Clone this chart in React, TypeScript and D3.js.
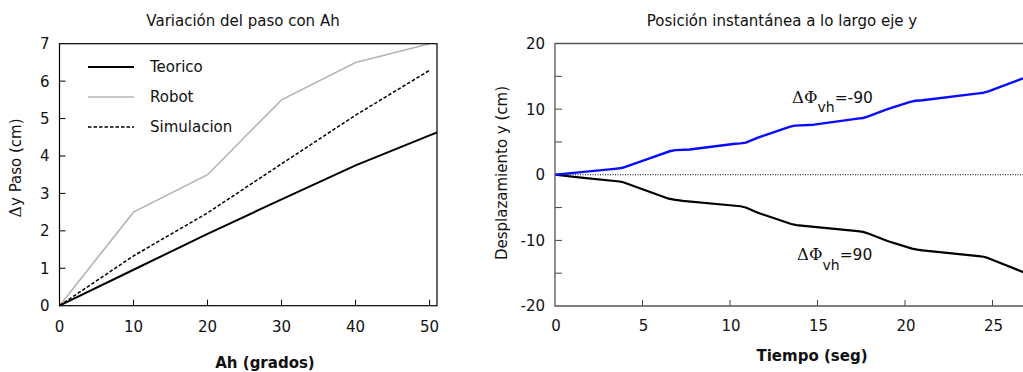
import React from "react";
import * as d3 from "d3";

// ---------- Left panel data ----------
const ahGrados = [0, 10, 20, 30, 40, 50];
const teoricoX = [0, 10, 20, 30, 40, 50, 51];
const teoricoY = [0, 0.96, 1.92, 2.84, 3.75, 4.55, 4.63];
const robotY = [0, 2.5, 3.5, 5.5, 6.5, 7.0];
const simulacionY = [0, 1.33, 2.48, 3.79, 5.09, 6.29];
const leftXTicks = [0, 10, 20, 30, 40, 50];
const leftYTicks = [0, 1, 2, 3, 4, 5, 6, 7];
const legendLabels = ["Teorico", "Robot", "Simulacion"];

// ---------- Right panel data ----------
const tiempoNeg = [0, 1.5, 3.4, 3.7, 3.9, 5.2, 6.6, 6.9, 7.7, 10.3, 10.6, 10.9, 11.6, 13.4, 13.7, 14.8, 17.3, 17.6, 17.9, 19.0, 20.3, 20.6, 21.0, 24.2, 24.5, 24.8, 26.7, 27.5];
const dispNeg90 = [0, 0.4, 0.9, 0.98, 1.1, 2.3, 3.62, 3.75, 3.84, 4.72, 4.78, 4.9, 5.66, 7.3, 7.48, 7.63, 8.55, 8.65, 8.9, 10.0, 11.1, 11.28, 11.35, 12.4, 12.5, 12.75, 14.63, 15.4];
const tiempoPos = [0, 1.5, 3.4, 3.7, 3.9, 5.2, 6.5, 6.8, 7.3, 10.3, 10.6, 10.9, 11.6, 13.5, 13.8, 14.8, 17.3, 17.6, 17.9, 19.0, 20.4, 20.7, 21.0, 24.2, 24.5, 24.8, 26.7, 27.5];
const dispPos90 = [0, -0.45, -0.95, -1.03, -1.15, -2.4, -3.65, -3.8, -3.98, -4.72, -4.8, -4.99, -5.8, -7.5, -7.68, -7.93, -8.6, -8.7, -8.95, -10.1, -11.25, -11.42, -11.53, -12.4, -12.5, -12.75, -14.78, -15.6];
const rightXTicks = [0, 5, 10, 15, 20, 25];
const rightYTicks = [-20, -15, -10, -5, 0, 5, 10, 15, 20];
const rightYLabels = [-20, -10, 0, 10, 20];

const FONT = "'DejaVu Sans', Verdana, sans-serif";

export default function App() {
  // Left scales
  const xL = d3.scaleLinear().domain([0, 51]).range([59.5, 437]);
  const yL = d3.scaleLinear().domain([0, 7]).range([305.7, 43.7]);
  const lineL = d3
    .line<[number, number]>()
    .x((d) => xL(d[0]))
    .y((d) => yL(d[1]));

  const teorico = lineL(teoricoX.map((x, i) => [x, teoricoY[i]]) as [number, number][]);
  const robot = lineL(ahGrados.map((x, i) => [x, robotY[i]]) as [number, number][]);
  const simul = lineL(ahGrados.map((x, i) => [x, simulacionY[i]]) as [number, number][]);

  // Right scales
  const xR = d3.scaleLinear().domain([0, 27]).range([555, 1027.5]);
  const yR = d3.scaleLinear().domain([-20, 20]).range([306, 43.5]);
  const lineR = d3
    .line<[number, number]>()
    .x((d) => xR(d[0]))
    .y((d) => yR(d[1]));
  const blue = lineR(tiempoNeg.map((t, i) => [t, dispNeg90[i]]) as [number, number][]);
  const black = lineR(tiempoPos.map((t, i) => [t, dispPos90[i]]) as [number, number][]);

  const legendStyles = [
    { stroke: "#000", width: 2, dash: undefined as string | undefined },
    { stroke: "#b4b4b4", width: 1.6, dash: undefined },
    { stroke: "#000", width: 1.5, dash: "3.5,2" },
  ];

  return (
    <div style={{ position: "absolute", left: 0, top: 0 }}>
      <svg width={1023} height={372} style={{ display: "block", background: "#fff" }} fontFamily={FONT}>
        <defs>
          <clipPath id="clipL">
            <rect x={xL(0)} y={yL(7) - 1} width={xL(51) - xL(0)} height={yL(0) - yL(7) + 2} />
          </clipPath>
          <clipPath id="clipR">
            <rect x={xR(0)} y={yR(20)} width={xR(27) - xR(0)} height={yR(-20) - yR(20)} />
          </clipPath>
        </defs>

        {/* ===== Left panel ===== */}
        <text x={243} y={26} fontSize={15} textAnchor="middle" fill="#111">
          Variación del paso con Ah
        </text>
        {leftXTicks.slice(1).map((t) => (
          <line key={"lxt" + t} x1={xL(t)} x2={xL(t)} y1={yL(0)} y2={yL(0) - 6} stroke="#000" strokeWidth={1} />
        ))}
        {leftYTicks.slice(1, -1).map((t) => (
          <line key={"lyt" + t} x1={xL(0)} x2={xL(0) + 6} y1={yL(t)} y2={yL(t)} stroke="#000" strokeWidth={1} />
        ))}
        {leftXTicks.map((t) => (
          <text key={"lxl" + t} x={xL(t)} y={331.5} fontSize={15} textAnchor="middle" fill="#111">
            {t}
          </text>
        ))}
        {leftYTicks.map((t) => (
          <text key={"lyl" + t} x={49.5} y={yL(t)} dy="0.36em" fontSize={15} textAnchor="end" fill="#111">
            {t}
          </text>
        ))}
        <g clipPath="url(#clipL)">
          <path d={robot || ""} fill="none" stroke="#b4b4b4" strokeWidth={1.6} />
          <path d={simul || ""} fill="none" stroke="#000" strokeWidth={1.5} strokeDasharray="3.5,2" />
          <path d={teorico || ""} fill="none" stroke="#000" strokeWidth={2} />
        </g>
        <rect x={xL(0)} y={yL(7)} width={xL(51) - xL(0)} height={yL(0) - yL(7)} fill="none" stroke="#000" strokeWidth={1.2} />
        {legendLabels.map((lab, i) => (
          <g key={lab}>
            <line
              x1={88}
              x2={134}
              y1={67 + i * 30}
              y2={67 + i * 30}
              stroke={legendStyles[i].stroke}
              strokeWidth={legendStyles[i].width}
              strokeDasharray={legendStyles[i].dash}
            />
            <text x={150} y={67 + i * 30} dy="0.36em" fontSize={15} fill="#111">
              {lab}
            </text>
          </g>
        ))}
        <text x={265} y={368} fontSize={15} fontWeight="bold" textAnchor="middle" fill="#111">
          Ah (grados)
        </text>
        <text transform="translate(21,168) rotate(-90)" fontSize={15} textAnchor="middle" fill="#111">
          <tspan fontFamily="'DejaVu Serif', serif" fontSize={16}>Δ</tspan>y Paso (cm)
        </text>

        {/* ===== Right panel ===== */}
        <text x={782} y={26} fontSize={15} textAnchor="middle" fill="#111">
          Posición instantánea a lo largo eje y
        </text>
        {rightXTicks.slice(1).map((t) => (
          <line key={"rxt" + t} x1={xR(t)} x2={xR(t)} y1={yR(-20)} y2={yR(-20) - 6} stroke="#444" strokeWidth={1} />
        ))}
        {rightYTicks.slice(1, -1).map((t) => (
          <line key={"ryt" + t} x1={xR(0)} x2={xR(0) + 7} y1={yR(t)} y2={yR(t)} stroke="#444" strokeWidth={1} />
        ))}
        {rightXTicks.map((t) => (
          <text key={"rxl" + t} x={xR(t) + 1} y={330.5} fontSize={15} textAnchor="middle" fill="#111">
            {t}
          </text>
        ))}
        {rightYLabels.map((t) => (
          <text key={"ryl" + t} x={545} y={yR(t)} dy="0.36em" fontSize={15} textAnchor="end" fill="#111">
            {t}
          </text>
        ))}
        <line x1={xR(0)} x2={1023} y1={yR(0)} y2={yR(0)} stroke="#000" strokeWidth={1} strokeDasharray="1,1.5" />
        <g clipPath="url(#clipR)">
          <path d={black || ""} fill="none" stroke="#000" strokeWidth={2.2} strokeLinejoin="round" />
          <path d={blue || ""} fill="none" stroke="#0a0aff" strokeWidth={2.4} strokeLinejoin="round" />
        </g>
        <path d={`M1030,${yR(20)} H${xR(0)} V${yR(-20)} H1030`} fill="none" stroke="#555" strokeWidth={1.3} />
        <text x={792} y={102.5} fontSize={15.5} fill="#111">
          <tspan fontFamily="'DejaVu Serif', serif" fontSize={16.5}>ΔΦ</tspan>
          <tspan dy={9.5} fontSize={14}>vh</tspan>
          <tspan dy={-9.5}>=-90</tspan>
        </text>
        <text x={797} y={260} fontSize={15.5} fill="#111">
          <tspan fontFamily="'DejaVu Serif', serif" fontSize={16.5}>ΔΦ</tspan>
          <tspan dy={9.5} fontSize={14}>vh</tspan>
          <tspan dy={-9.5}>=90</tspan>
        </text>
        <text x={812} y={361} fontSize={15} fontWeight="bold" textAnchor="middle" fill="#111">
          Tiempo (seg)
        </text>
        <text transform="translate(507,173) rotate(-90)" fontSize={15} textAnchor="middle" fill="#111">
          Desplazamiento y (cm)
        </text>
      </svg>
    </div>
  );
}
